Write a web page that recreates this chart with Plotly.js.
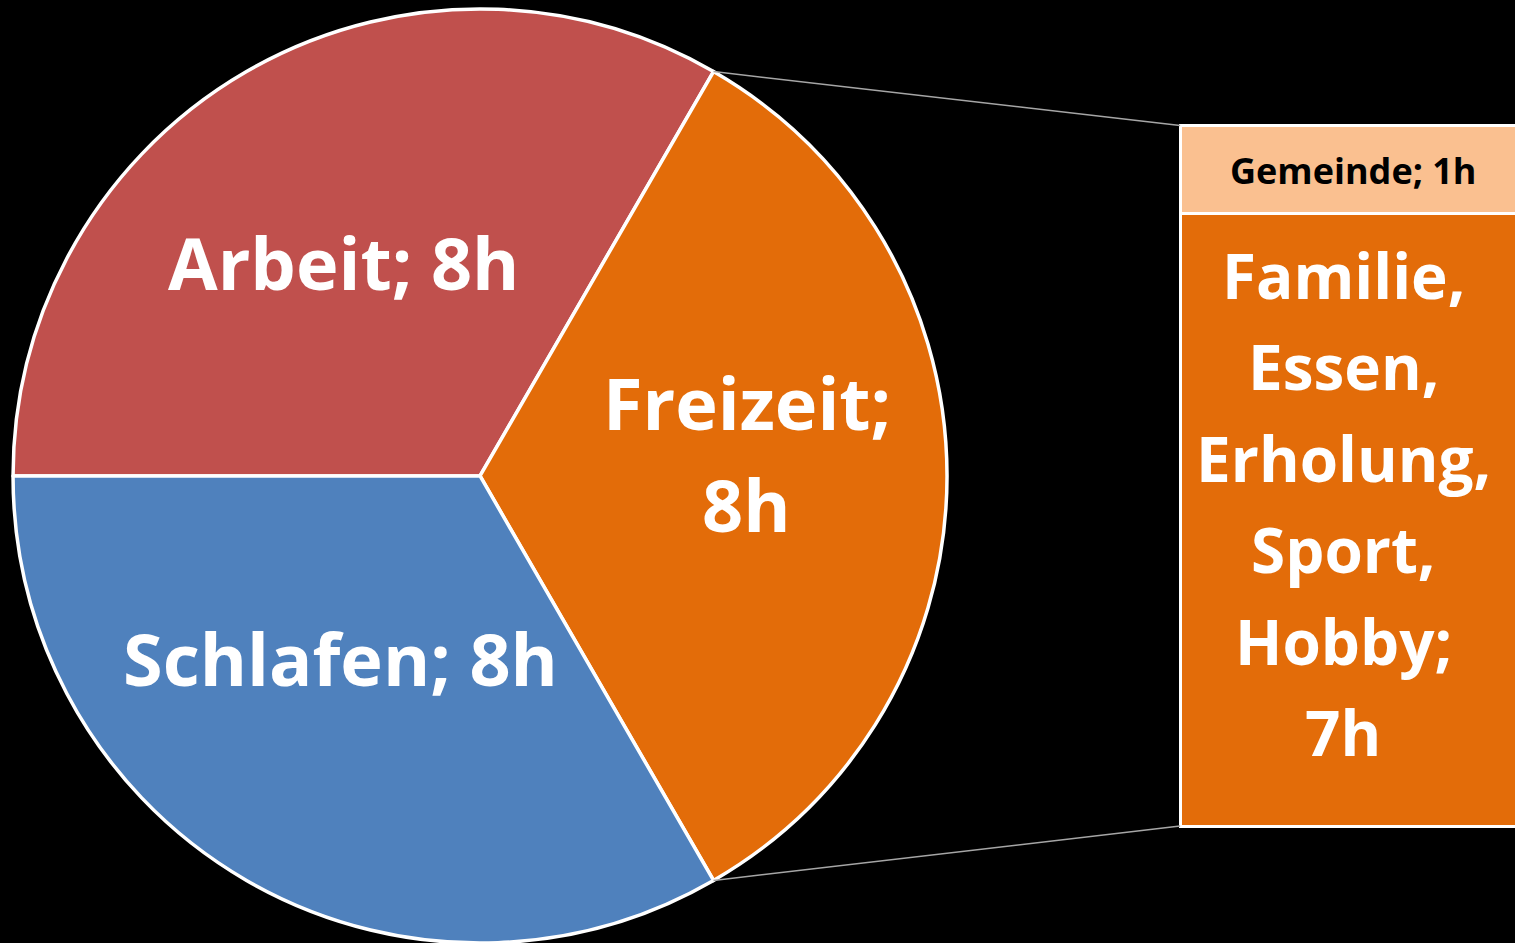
<!DOCTYPE html>
<html>
<head>
<meta charset="utf-8">
<script src="https://cdn.plot.ly/plotly-3.0.1.min.js"></script>
<style>html,body{margin:0;padding:0;background:#000;}#chart{width:1515px;height:943px;}</style>
</head>
<body>
<div id="chart"></div>
<script>
// ---- data ----
const pieLabels = ["Arbeit", "Freizeit", "Schlafen"];
const pieValues = [8, 8, 8];
const pieColors = ["#C0504D", "#E36C09", "#4F81BD"];

const barLabels = ["Familie, Essen, Erholung, Sport, Hobby", "Gemeinde"];
const barValues = [7, 1];
const barColors = ["#E36C09", "#FAC090"];
const unit = "h";

// ---- geometry (layout) ----
const W = 1515, H = 943;
const pieDomX = [0.0086, 0.6251], pieDomY = [0, 0.9905];
const rotation = 270;
const FONT = "Open Sans, Noto Sans, sans-serif";

const px = (x) => x / W;
const py = (y) => 1 - y / H;

const traces = [
  {
    type: "pie",
    labels: pieLabels,
    values: pieValues,
    sort: false,
    direction: "clockwise",
    rotation: rotation,
    marker: { colors: pieColors, line: { color: "#FFFFFF", width: 3.5 } },
    textinfo: "none",
    hoverinfo: "none",
    showlegend: false,
    domain: { x: pieDomX, y: pieDomY }
  }
];

// stacked bar: bottom segment first
barValues.forEach((v, i) => {
  traces.push({
    type: "bar",
    x: [0],
    y: [v],
    width: 1,
    name: barLabels[i],
    marker: { color: barColors[i], line: { color: "#FFFFFF", width: 3 } },
    hoverinfo: "none",
    showlegend: false,
    xaxis: "x",
    yaxis: "y"
  });
});

// pie geometry in pixels
const cx = (pieDomX[0] + pieDomX[1]) / 2 * W;
const cyPaper = (pieDomY[0] + pieDomY[1]) / 2;
const cy = (1 - cyPaper) * H;
const R = Math.min((pieDomX[1] - pieDomX[0]) * W, (pieDomY[1] - pieDomY[0]) * H) / 2;
const total = pieValues.reduce((a, b) => a + b, 0);
const fIdx = 1;
const before = pieValues.slice(0, fIdx).reduce((a, b) => a + b, 0);
const a0 = (rotation + 360 * before / total) * Math.PI / 180;
const a1 = (rotation + 360 * (before + pieValues[fIdx]) / total) * Math.PI / 180;
const p0 = [cx + R * Math.sin(a0), cy - R * Math.cos(a0)];
const p1 = [cx + R * Math.sin(a1), cy - R * Math.cos(a1)];

// bar axes
const xDom = [1175 / W, 1];
const xRange = [-0.515, 0.48];
const yDom = [1 - 832 / H, 1 - 120 / H];
const yRange = [-0.0685, 8.063];
const barTotal = barValues.reduce((a, b) => a + b, 0);
const barLeftPx = xDom[0] * W + (-0.5 - xRange[0]) / (xRange[1] - xRange[0]) * (xDom[1] - xDom[0]) * W;
const yToPaper = (v) => yDom[0] + (v - yRange[0]) / (yRange[1] - yRange[0]) * (yDom[1] - yDom[0]);

const connector = { color: "#A6A6A6", width: 1.5 };
const shapes = [
  { type: "line", xref: "paper", yref: "paper", x0: px(p0[0]), y0: py(p0[1]), x1: px(barLeftPx), y1: yToPaper(barTotal), line: connector },
  { type: "line", xref: "paper", yref: "paper", x0: px(p1[0]), y0: py(p1[1]), x1: px(barLeftPx), y1: yToPaper(0), line: connector }
];

const big = { family: FONT, size: 72, color: "#FFFFFF", weight: 700 };
const ann = [];
function addAnn(text, x, y, font) {
  ann.push({ text: text, xref: "paper", yref: "paper", x: px(x), y: py(y), xanchor: "center", yanchor: "middle", showarrow: false, font: font });
}
addAnn(pieLabels[0] + "; " + pieValues[0] + unit, 343, 262, big);
addAnn(pieLabels[1] + ";", 747, 402, big);
addAnn(pieValues[1] + unit, 746, 504, big);
addAnn(pieLabels[2] + "; " + pieValues[2] + unit, 340, 658, big);
addAnn(barLabels[1] + "; " + barValues[1] + unit, 1353, 171, { family: FONT, size: 36, color: "#000000", weight: 700 });

const parts = barLabels[0].split(", ");
const lines = parts.map((p, i) => p + (i < parts.length - 1 ? "," : ";")).concat([barValues[0] + unit]);
const lineY0 = 275, lineGap = 91.4;
lines.forEach((t, i) => addAnn(t, 1343, lineY0 + i * lineGap, { family: FONT, size: 62, color: "#FFFFFF", weight: 700 }));

const layout = {
  width: W, height: H,
  margin: { l: 0, r: 0, t: 0, b: 0 },
  paper_bgcolor: "#000000",
  plot_bgcolor: "rgba(0,0,0,0)",
  barmode: "stack",
  showlegend: false,
  xaxis: { domain: xDom, range: xRange, visible: false, fixedrange: true },
  yaxis: { domain: yDom, range: yRange, visible: false, fixedrange: true },
  shapes: shapes,
  annotations: ann
};

Plotly.newPlot("chart", traces, layout, { displayModeBar: false, staticPlot: true });
</script>
</body>
</html>
